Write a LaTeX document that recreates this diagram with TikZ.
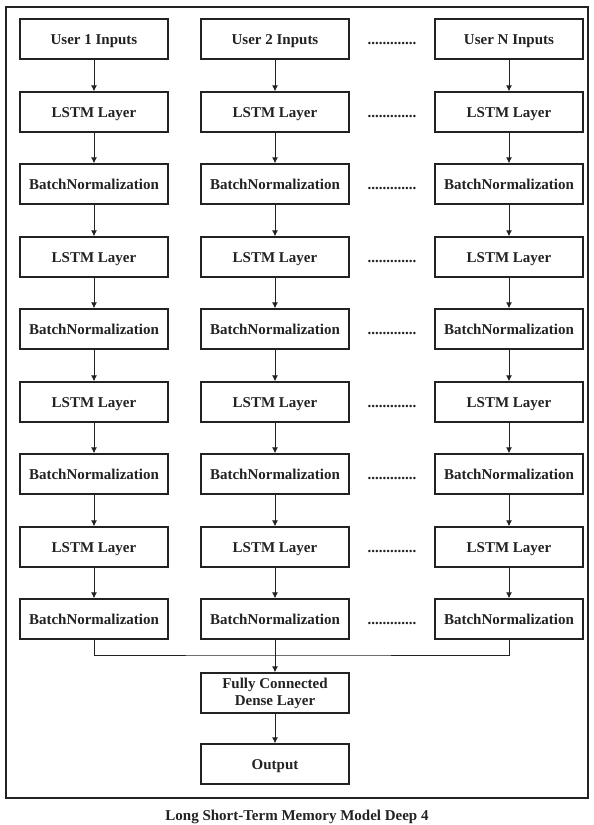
\documentclass[tikz,border=0pt]{standalone}
\usepackage{fontspec}
\setmainfont{Liberation Serif}
\usetikzlibrary{arrows.meta}
\definecolor{ink}{HTML}{222222}
\begin{document}
\begin{tikzpicture}[x=1pt,y=-1pt,
  box/.style={draw=ink, line width=1.3pt, minimum width=148pt, minimum height=40pt, inner sep=0pt,
    font=\fontsize{15}{17}\selectfont\bfseries, text=ink, align=center},
  blk/.style={box, text height=12pt, text depth=2pt},
  arr/.style={draw=ink, line width=1pt, -{Latex[length=6pt,width=6pt]}},
  dotsty/.style={font=\fontsize{15}{17}\selectfont\bfseries, text=ink, anchor=base, inner sep=0pt}]
\useasboundingbox (0,0) rectangle (594,825);
\draw[ink, line width=1.6pt] (6,7) rectangle (588,798);
\foreach \c/\x/\u in {1/94/1, 2/275/2, 3/509/N} {
  \node[blk] (c\c r0) at (\x,39) {User \u{} Inputs};
  \foreach \r in {1,...,8} {
    \pgfmathtruncatemacro\yy{round(39+72.5*\r)}
    \ifodd\r \def\lab{LSTM Layer}\else\def\lab{BatchNormalization}\fi
    \node[blk] (c\c r\r) at (\x,\yy) {\lab};
    \pgfmathtruncatemacro\pr{\r-1}
    \draw[arr] (c\c r\pr) -- (c\c r\r);
  }
}
\foreach \r in {0,...,8} {
  \pgfmathtruncatemacro\yd{round(44+72.5*\r)}
  \node[dotsty] (d\r) at (392,\yd) {.............};
}
\node[box] (fc) at (275,693) {Fully Connected\\Dense Layer};
\node[blk] (out) at (275,764) {Output};
\coordinate (m) at (275,655);
\draw[ink, line width=1pt] (c1r8.south) |- (m) -| (c3r8.south);
\draw[arr] (c2r8) -- (fc);
\draw[arr] (fc) -- (out);
\node[font=\fontsize{15}{17}\selectfont\bfseries, text=ink] (cap) at (297,817) {Long Short-Term Memory Model Deep 4};
\end{tikzpicture}
\end{document}
